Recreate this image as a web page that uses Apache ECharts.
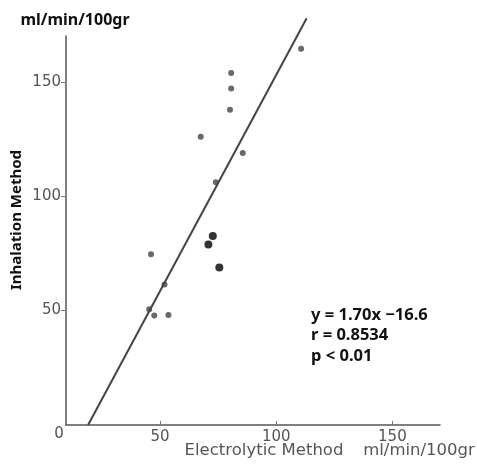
<!DOCTYPE html>
<html><head><meta charset="utf-8">
<script src="https://cdn.jsdelivr.net/npm/echarts@6/dist/echarts.min.js"></script>
<style>html,body{margin:0;padding:0;background:#fff}#c{width:477px;height:469px}</style>
</head><body><div id="c"></div>
<script>
// Electrolytic method (x) vs Inhalation method (y), ml/min/100gr
const grayPoints = [
  [110.7,164.4],[80.6,153.8],[80.6,147.1],[80.1,137.8],[67.5,126.0],
  [85.6,118.9],[74.0,106.1],[46.1,74.6],[51.9,61.4],[45.3,50.6],
  [47.5,47.8],[53.6,48.1]
];
const blackPoints = [[72.7,82.6],[70.8,78.9],[75.5,68.8]];
// regression line end points as drawn in the figure
const regLine = [[19.0,0],[113.1,177.8]];
const xTicks = [50,100,150];
const yTicks = [50,100,150];
const annotation = ['y = 1.70x −16.6','r = 0.8534','p < 0.01'];

const chart = echarts.init(document.getElementById('c'), null, {renderer:'canvas'});
const fam = '"DejaVu Sans", "Noto Sans", sans-serif';
const famB = '"Noto Sans", "Liberation Sans", sans-serif';
chart.setOption({
  animation:false,
  backgroundColor:'#fff',
  grid:{left:66, right:37, top:36, bottom:44},
  xAxis:{
    type:'value', min:9.5, max:170.5,
    axisLine:{show:true, lineStyle:{color:'#555', width:1.5}},
    axisTick:{show:true, inside:true, length:4, customValues:xTicks, lineStyle:{color:'#777'}},
    axisLabel:{customValues:xTicks, color:'#555', fontSize:15, fontFamily:fam, margin:5},
    splitLine:{show:false}
  },
  yAxis:{
    type:'value', min:0, max:170,
    axisLine:{show:true, lineStyle:{color:'#555', width:1.5}},
    axisTick:{show:true, length:5, customValues:yTicks, lineStyle:{color:'#777'}},
    axisLabel:{customValues:yTicks, color:'#555', fontSize:15, fontFamily:fam, margin:5},
    splitLine:{show:false}
  },
  graphic:[
    {type:'text', x:75, y:20, style:{text:'ml/min/100gr', font:'bold 16px '+famB, fill:'#111', align:'center', verticalAlign:'middle'}},
    {type:'text', x:17, y:220, rotation:Math.PI/2, style:{text:'Inhalation Method', font:'bold 15px '+famB, fill:'#111', align:'center', verticalAlign:'middle'}},
    {type:'text', x:59, y:434, style:{text:'0', font:'15px '+fam, fill:'#555', align:'center', verticalAlign:'middle'}},
    {type:'text', x:264, y:451, style:{text:'Electrolytic Method', font:'16.5px '+fam, fill:'#555', align:'center', verticalAlign:'middle'}},
    {type:'text', x:419, y:451, style:{text:'ml/min/100gr', font:'16.5px '+fam, fill:'#555', align:'center', verticalAlign:'middle'}},
    {type:'text', left:311, top:305, style:{text:annotation.join('\n'), font:'bold 16.5px '+famB, fill:'#111', lineHeight:20.5}}
  ],
  series:[
    {type:'line', data:regLine, clip:false, symbol:'none', lineStyle:{color:'#444', width:2}, z:2},
    {type:'scatter', data:grayPoints, symbolSize:6, itemStyle:{color:'#444'}, z:3},
    {type:'scatter', data:blackPoints, symbolSize:8, itemStyle:{color:'#000'}, z:3}
  ]
});
</script></body></html>
